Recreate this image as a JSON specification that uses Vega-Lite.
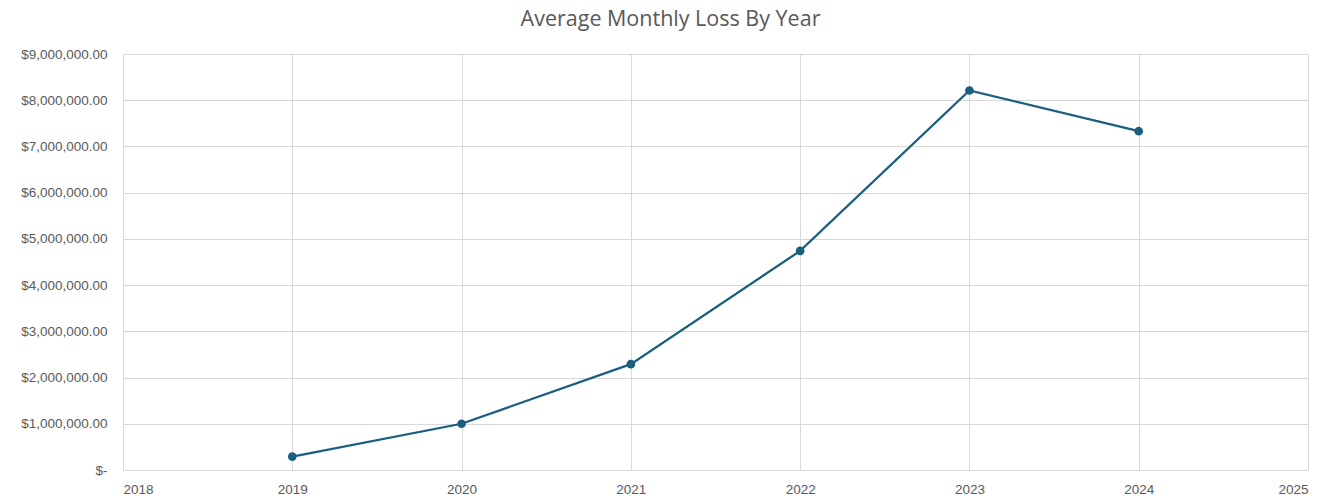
{
  "$schema": "https://vega.github.io/schema/vega-lite/v6.json",
  "autosize": "none",
  "width": 1185,
  "height": 416,
  "padding": {"left": 123, "top": 54, "right": 29, "bottom": 30},
  "background": "white",
  "title": {
    "text": "Average Monthly Loss By Year",
    "font": "Open Sans",
    "fontSize": 21.5,
    "fontWeight": "normal",
    "color": "#595959",
    "anchor": "middle",
    "dx": -45,
    "offset": 17
  },
  "data": {
    "values": [
      {"year": 2019, "loss": 290000},
      {"year": 2020, "loss": 1000000},
      {"year": 2021, "loss": 2290000},
      {"year": 2022, "loss": 4740000},
      {"year": 2023, "loss": 8210000},
      {"year": 2024, "loss": 7330000}
    ]
  },
  "config": {
    "view": {"stroke": null},
    "axis": {
      "labelFont": "Liberation Sans",
      "labelFontSize": 13.5,
      "labelColor": "#595959",
      "gridColor": "#d9d9d9",
      "domainColor": "#d9d9d9",
      "ticks": false,
      "title": null
    }
  },
  "mark": {"type": "line", "color": "#1b5f80", "strokeWidth": 2.25, "point": {"filled": true, "size": 75, "color": "#1b5f80", "opacity": 1}},
  "encoding": {
    "x": {
      "field": "year",
      "type": "quantitative",
      "scale": {"domain": [2018, 2025], "nice": false, "zero": false},
      "axis": {"values": [2018, 2019, 2020, 2021, 2022, 2023, 2024, 2025], "format": "d", "labelPadding": 12, "grid": true, "domain": true}
    },
    "y": {
      "field": "loss",
      "type": "quantitative",
      "scale": {"domain": [0, 9000000], "nice": false},
      "axis": {"values": [0, 1000000, 2000000, 3000000, 4000000, 5000000, 6000000, 7000000, 8000000, 9000000], "labelExpr": "datum.value == 0 ? '$-' : format(datum.value, '$,.2f')", "labelPadding": 16, "grid": true, "domain": true}
    }
  }
}
